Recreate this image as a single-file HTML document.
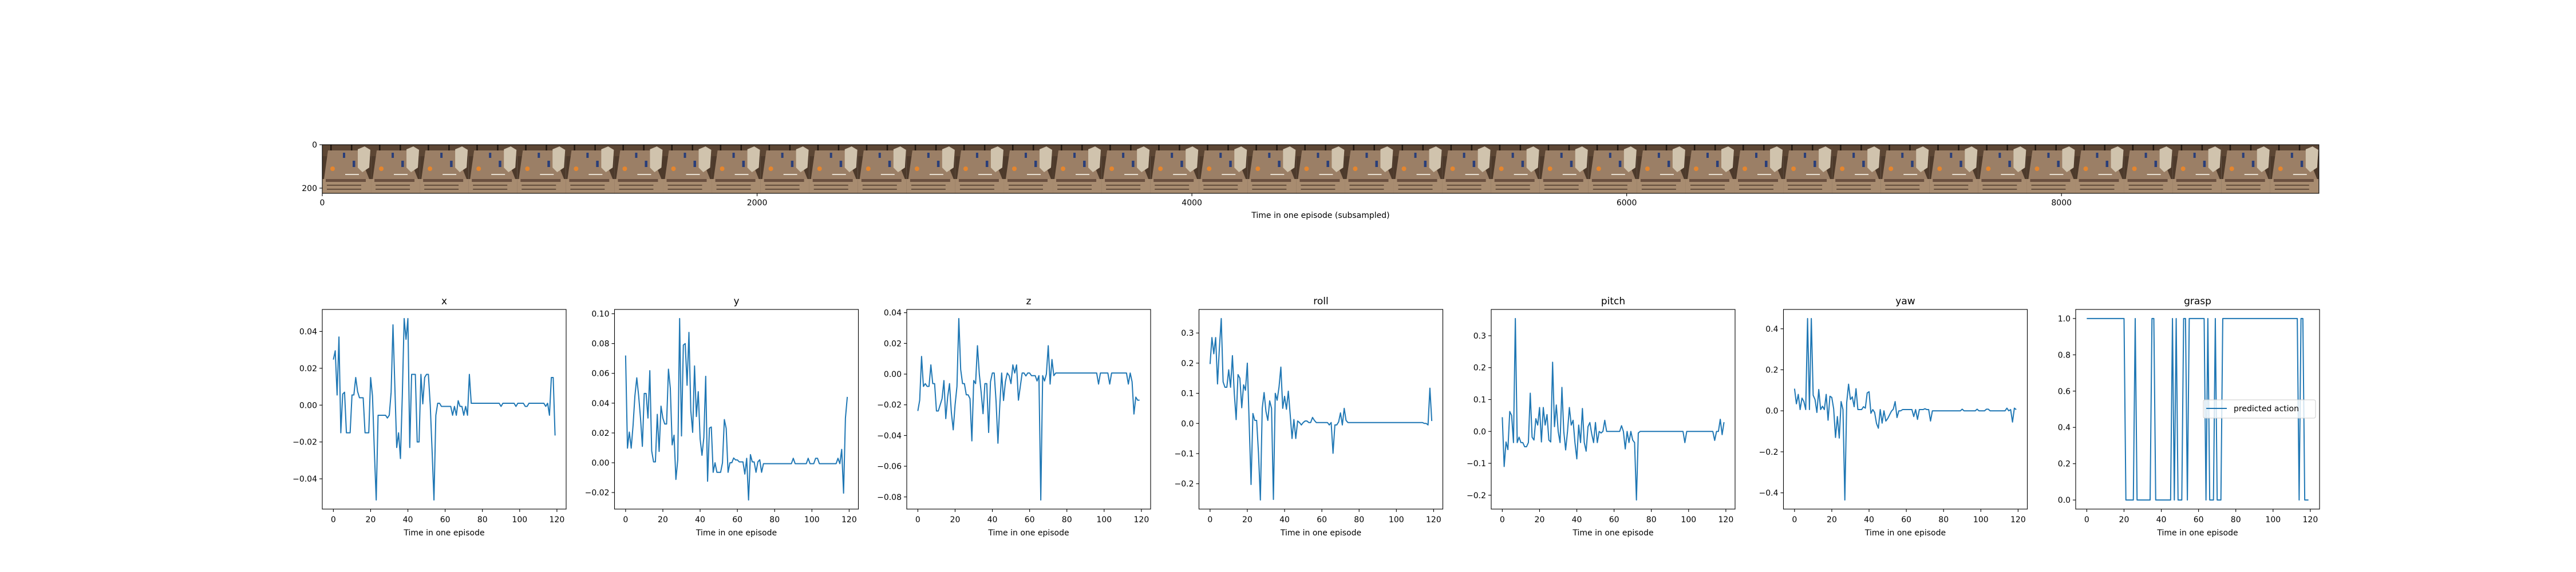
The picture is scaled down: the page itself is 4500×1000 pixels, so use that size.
<!DOCTYPE html>
<html><head><meta charset="utf-8"><style>
html,body{margin:0;padding:0;background:#fff;}
svg{display:block;font-family:"DejaVu Sans","Liberation Sans",sans-serif;}
</style></head><body>
<svg id="fig" width="4500" height="1000" viewBox="0 0 4500 1000" xmlns="http://www.w3.org/2000/svg">
<defs>
<g id="tile">
 <rect x="0" y="0" width="85.07" height="85" fill="#4d3a2b"/>
 <rect x="0" y="0" width="85.07" height="20" fill="#5c4634"/>
 <rect x="14" y="0" width="2.5" height="24" fill="#21170f"/>
 <rect x="50" y="0" width="2.5" height="20" fill="#21170f"/>
 <polygon points="10,10 62,10 82,60 3,60" fill="#9b7f66"/>
 <rect x="0" y="60" width="85.07" height="25" fill="#a88c70"/>
 <rect x="6" y="60" width="70" height="5" fill="#6a5040"/>
 <rect x="8" y="70" width="60" height="1.5" fill="#4e3a2c"/>
 <rect x="8" y="77" width="60" height="1.5" fill="#4e3a2c"/>
 <circle cx="18" cy="42" r="4" fill="#e5862e"/>
 <rect x="36" y="14" width="4" height="9" fill="#2a3f7a"/>
 <rect x="53" y="28" width="4.5" height="11" fill="#2a3f7a"/>
 <rect x="40" y="51" width="24" height="2" fill="#e6ddd0"/>
 <polygon points="62,8 74,3 84,9 82,40 70,48 62,40" fill="#d0c3ad"/>
</g>
</defs>
<g id="strip"></g>
<g id="panels"></g>
</svg>
<script>
// ---------- chart data ----------
const timesteps = Array.from({length:120},(_,i)=>i);
const panelTitles = ["x","y","z","roll","pitch","yaw","grasp"];
const xVals = [0.0247,0.0295,0.0055,0.037,-0.015,0.006,0.007,-0.015,-0.015,-0.015,0.0055,0.0055,0.015,0.0074,0.004,0.004,0.004,-0.015,-0.015,-0.015,0.015,0.005,-0.025,-0.0515,-0.0055,-0.0055,-0.0055,-0.0055,-0.0055,-0.007,-0.0055,0.007,0.0436,0.01,-0.023,-0.015,-0.029,0.005,0.047,0.0357,0.047,-0.023,0.0167,0.0167,0.0167,-0.02,-0.02,0.0167,0.0007,0.015,0.0167,0.0167,0.0,-0.025,-0.0515,-0.0055,0.001,0.001,-0.0007,-0.0007,-0.0007,-0.0007,-0.0007,-0.0007,-0.0055,-0.0007,-0.0055,0.0024,-0.0007,-0.0007,-0.0055,-0.0007,-0.0055,0.0167,0.001,0.001,0.001,0.001,0.001,0.001,0.001,0.001,0.001,0.001,0.001,0.001,0.001,0.001,0.001,0.001,-0.0007,0.001,0.001,0.001,0.001,0.001,0.001,0.001,-0.0007,0.001,0.001,0.001,0.001,-0.0007,-0.0007,0.001,0.001,0.001,0.001,0.001,0.001,0.001,0.001,0.001,-0.0007,0.001,-0.0055,0.015,0.015,-0.0165];
const yVals = [0.072,0.0098,0.0206,0.0098,0.025,0.045,0.057,0.045,0.03,0.011,0.0465,0.0465,0.03,0.0618,0.008,0.0006,0.0006,0.0325,0.0076,0.038,0.03,0.026,0.026,0.0628,0.05,0.012,0.0185,-0.0112,0.002,0.0968,0.018,0.079,0.08,0.052,0.0875,0.035,0.0204,0.065,0.031,0.0477,0.016,0.005,0.017,0.058,-0.0124,0.0233,0.024,-0.0064,0,-0.0064,-0.0064,-0.0064,0,0.029,0.023,-0.0064,0,0,0.0032,0.0019,0.0019,0.0006,0.0006,0.0006,-0.0076,0.003,-0.025,0.0055,0.0006,0.0006,-0.0064,0.0006,0.002,-0.0064,-0.0006,-0.0006,-0.0006,-0.0006,-0.0006,-0.0006,-0.0006,-0.0006,-0.0006,-0.0006,-0.0006,-0.0006,-0.0006,-0.0006,-0.0006,-0.0006,0.003,-0.0006,-0.0006,-0.0006,-0.0006,-0.0006,-0.0006,-0.0006,0.003,-0.0006,-0.0006,-0.0006,0.003,0.003,-0.0006,-0.0006,-0.0006,-0.0006,-0.0006,-0.0006,-0.0006,-0.0006,-0.0006,-0.0006,0.003,-0.0006,0.009,-0.0204,0.03,0.0442];
const zVals = [-0.024,-0.017,0.0115,-0.008,-0.0062,-0.008,-0.008,0.006,-0.0062,-0.0062,-0.024,-0.024,-0.02,-0.016,-0.0042,-0.029,-0.015,-0.0062,-0.025,-0.0363,-0.02,-0.008,0.0362,0.003,-0.0062,-0.0062,-0.0135,-0.0135,-0.016,-0.0435,-0.0042,-0.0062,0.0185,0.0,-0.012,-0.0258,-0.0062,-0.0062,-0.038,-0.005,0.0007,0.0007,-0.018,-0.045,-0.02,0.0007,-0.0172,-0.005,0.0007,-0.001,-0.0062,0.006,0.0007,0.006,-0.017,-0.008,0.0007,0.0007,-0.0012,0.0007,0.0007,-0.001,-0.001,-0.001,-0.0045,-0.001,-0.082,-0.001,-0.0045,0.0,0.0185,-0.0065,0.0095,-0.001,0.0007,0.0007,0.0007,0.0007,0.0007,0.0007,0.0007,0.0007,0.0007,0.0007,0.0007,0.0007,0.0007,0.0007,0.0007,0.0007,0.0007,0.0007,0.0007,0.0007,0.0007,0.0007,0.0007,-0.0065,0.0007,0.0007,0.0007,0.0007,0.0007,-0.0065,0.0007,0.0007,0.0007,0.0007,0.0007,0.0007,0.0007,0.0007,0.0007,-0.0065,0.0007,-0.005,-0.026,-0.015,-0.017,-0.017];
const rollVals = [0.197,0.285,0.231,0.285,0.131,0.25,0.348,0.138,0.12,0.12,0.178,0.12,0.225,0.1,0.0126,0.162,0.15,0.052,0.128,0.11,0.2,0.0,-0.2025,0.033,0.01,0.01,-0.1,-0.254,0.05,0.1025,0.04,0.01,0.075,0.05,-0.252,0.1,0.077,0.12,0.187,0.05,0.09,0.047,0.107,0.03,-0.05,0.013,-0.05,0.008,0.003,-0.005,0.003,0.008,0.008,0.003,0.003,0.02,0.01,0.003,0.003,0.003,0.003,0.003,0.003,0.003,-0.005,0.003,-0.099,-0.005,-0.005,0.005,0.035,-0.005,0.05,0.01,0.003,0.003,0.003,0.003,0.003,0.003,0.003,0.003,0.003,0.003,0.003,0.003,0.003,0.003,0.003,0.003,0.003,0.003,0.003,0.003,0.003,0.003,0.003,0.003,0.003,0.003,0.003,0.003,0.003,0.003,0.003,0.003,0.003,0.003,0.003,0.003,0.003,0.003,0.003,0.003,0.003,0.0,0.0,-0.005,0.117,0.008];
const pitchVals = [0.0446,-0.11,-0.033,-0.057,0.0625,0.05,-0.035,0.354,-0.035,-0.018,-0.035,-0.035,-0.048,-0.048,-0.035,0.12,-0.018,-0.027,0.04,0.02,0.075,-0.033,0.075,0.02,0.053,-0.027,-0.033,0.217,0.015,0.083,0.0,-0.035,0.138,0.0,-0.058,0.0,0.075,0.02,0.035,-0.035,-0.086,0.02,-0.035,0.072,-0.035,-0.062,0.015,0.028,-0.008,-0.035,0.028,-0.035,0.0,-0.005,0.0,0.035,0.0,0.0,0.0,0.0,0.0,0.0,0.0,0.0,0.018,0.0,-0.055,0.0,-0.035,0.0,-0.027,-0.035,-0.215,-0.005,0.0,0.0,0.0,0.0,0.0,0.0,0.0,0.0,0.0,0.0,0.0,0.0,0.0,0.0,0.0,0.0,0.0,0.0,0.0,0.0,0.0,0.0,0.0,0.0,-0.035,0.0,0.0,0.0,0.0,0.0,0.0,0.0,0.0,0.0,0.0,0.0,0.0,0.0,0.0,0.0,-0.028,0.0,0.0,0.038,-0.01,0.029];
const yawVals = [0.108,0.034,0.08,0.006,0.062,0.045,0.006,0.45,0.006,0.45,0.076,0.055,-0.008,0.104,0.006,0.022,0.006,0.08,-0.046,0.071,0.065,0.01,-0.13,-0.028,-0.133,0.045,0.006,-0.435,0.04,0.13,0.055,0.068,0.02,0.108,0.006,0.006,0.006,0.02,0.013,0.087,0.093,-0.012,0.006,-0.008,-0.062,-0.085,0.006,-0.06,0.0,-0.05,-0.038,-0.02,-0.002,0.008,0.045,-0.033,0.0,0.0,0.006,0.006,0.006,0.006,0.006,0.006,-0.028,0.006,-0.042,0.006,0.006,0.006,0.01,0.006,0.006,-0.05,0.0,0.0,0.0,0.0,0.0,0.0,0.0,0.0,0.0,0.0,0.0,0.0,0.0,0.0,0.0,0.0,0.008,0.0,0.0,0.0,0.0,0.0,0.0,0.0,0.008,0.0,0.0,0.0,0.0,0.008,0.008,0.0,0.0,0.0,0.0,0.0,0.0,0.0,0.0,0.0,0.013,0.0,0.006,-0.055,0.013,0.006];
const graspVals = [1,1,1,1,1,1,1,1,1,1,1,1,1,1,1,1,1,1,1,1,1,0,0,0,0,0,1,0,0,0,0,0,0,0,0,1,1,0,0,0,0,0,0,0,0,0,1,0,1,0,0,0,1,1,0,1,1,1,1,1,1,1,1,1,0,1,0,0,0,1,0,0,0,1,1,1,1,1,1,1,1,1,1,1,1,1,1,1,1,1,1,1,1,1,1,1,1,1,1,1,1,1,1,1,1,1,1,1,1,1,1,1,1,1,0,1,1,0,0,0];
const xTicks = [0,20,40,60,80,100,120];
const yTicksX = [-0.04,-0.02,0.00,0.02,0.04];
const yTicksY = [-0.02,0.00,0.02,0.04,0.06,0.08,0.10];
const yTicksZ = [-0.08,-0.06,-0.04,-0.02,0.00,0.02,0.04];
const yTicksRoll = [-0.2,-0.1,0.0,0.1,0.2,0.3];
const yTicksPitch = [-0.2,-0.1,0.0,0.1,0.2,0.3];
const yTicksYaw = [-0.4,-0.2,0.0,0.2,0.4];
const yTicksGrasp = [0.0,0.2,0.4,0.6,0.8,1.0];
const yTickDecimals = [2,2,2,1,1,1,1];
const stripTicks = [0,2000,4000,6000,8000];
const stripYTicks = [0,200];
const frameCount = 41;
const frameSize = 224;

const NS="http://www.w3.org/2000/svg";
function mk(tag, parent){const e=document.createElementNS(NS,tag);parent.appendChild(e);return e;}
function fmt(v,d){const s=Math.abs(v).toFixed(d);return (v<-1e-9?"\u2212":"")+s;}

// ---------- image strip ----------
const strip=document.getElementById("strip");
const sL=563, sT=253, sH=85;
const dataW=frameCount*frameSize;
const sW=dataW*85.07/frameSize;
const sx=v=>sL+v*sW/dataW;
const sy=v=>sT+v*sH/frameSize;
for(let i=0;i<frameCount;i++){
  const u=mk("use",strip);
  u.setAttribute("href","#tile");
  u.setAttribute("x",sx(i*frameSize));
  u.setAttribute("y",sT);
  
  
}
{
  const r=mk("rect",strip);
  r.setAttribute("x",sL);r.setAttribute("y",sT);r.setAttribute("width",sW);r.setAttribute("height",sH);
  r.setAttribute("fill","none");r.setAttribute("stroke","#000");r.setAttribute("stroke-width","1.1");
  
  
  stripTicks.forEach(t=>{
    const l=mk("line",strip);
    l.setAttribute("x1",sx(t));l.setAttribute("x2",sx(t));l.setAttribute("y1",sT+sH);l.setAttribute("y2",sT+sH+5);
    l.setAttribute("stroke","#000");l.setAttribute("stroke-width","1.1");
    
    
    const tx=mk("text",strip);
    tx.setAttribute("x",sx(t));tx.setAttribute("y",sT+sH+21);tx.setAttribute("text-anchor","middle");tx.setAttribute("font-size","14");
    tx.textContent=String(t);
    
    
  });
  stripYTicks.forEach(t=>{
    const l=mk("line",strip);
    l.setAttribute("x1",sL-5);l.setAttribute("x2",sL);l.setAttribute("y1",sy(t));l.setAttribute("y2",sy(t));
    l.setAttribute("stroke","#000");l.setAttribute("stroke-width","1.1");
    
    
    const tx=mk("text",strip);
    tx.setAttribute("x",sL-9);tx.setAttribute("y",sy(t)+5);tx.setAttribute("text-anchor","end");tx.setAttribute("font-size","14");
    tx.textContent=String(t);
    
    
  });
  const xl=mk("text",strip);
  xl.setAttribute("x",sL+sW/2);xl.setAttribute("y",381);xl.setAttribute("text-anchor","middle");xl.setAttribute("font-size","14");
  xl.textContent="Time in one episode (subsampled)";
  
  
}

// ---------- action panels ----------
const panels=document.getElementById("panels");
const series=[xVals,yVals,zVals,rollVals,pitchVals,yawVals,graspVals];
const yTickSets=[yTicksX,yTicksY,yTicksZ,yTicksRoll,yTicksPitch,yTicksYaw,yTicksGrasp];
const pT=541, pB=890, pW=426;
series.forEach((vals,pi)=>{
  const L=563+pi*510.5, R=L+pW;
  const g=mk("g",panels);
  
  
  const xmin=0,xmax=timesteps[timesteps.length-1];
  const xm=(xmax-xmin)*0.05;
  const X=v=>L+(v-(xmin-xm))/((xmax+xm)-(xmin-xm))*pW;
  let ymin=Math.min(...vals), ymax=Math.max(...vals);
  const ym=(ymax-ymin)*0.05;
  const y0=ymin-ym, y1=ymax+ym;
  const Y=v=>pB-(v-y0)/(y1-y0)*(pB-pT);
  const p=mk("polyline",g);
  p.setAttribute("points",vals.map((v,i)=>X(timesteps[i]).toFixed(2)+","+Y(v).toFixed(2)).join(" "));
  p.setAttribute("fill","none");p.setAttribute("stroke","#1f77b4");p.setAttribute("stroke-width","2");p.setAttribute("stroke-linejoin","round");
  
  
  const fr=mk("rect",g);
  fr.setAttribute("x",L);fr.setAttribute("y",pT);fr.setAttribute("width",pW);fr.setAttribute("height",pB-pT);
  fr.setAttribute("fill","none");fr.setAttribute("stroke","#000");fr.setAttribute("stroke-width","1.1");
  
  
  xTicks.forEach(t=>{
    const l=mk("line",g);
    l.setAttribute("x1",X(t));l.setAttribute("x2",X(t));l.setAttribute("y1",pB);l.setAttribute("y2",pB+5);
    l.setAttribute("stroke","#000");l.setAttribute("stroke-width","1.1");
    
    
    const tx=mk("text",g);
    tx.setAttribute("x",X(t));tx.setAttribute("y",pB+23);tx.setAttribute("text-anchor","middle");tx.setAttribute("font-size","14");
    tx.textContent=String(t);
    
    
  });
  yTickSets[pi].forEach(t=>{
    if(t<y0-1e-9||t>y1+1e-9) return;
    const l=mk("line",g);
    l.setAttribute("x1",L-5);l.setAttribute("x2",L);l.setAttribute("y1",Y(t));l.setAttribute("y2",Y(t));
    l.setAttribute("stroke","#000");l.setAttribute("stroke-width","1.1");
    
    
    const tx=mk("text",g);
    tx.setAttribute("x",L-9);tx.setAttribute("y",Y(t)+5);tx.setAttribute("text-anchor","end");tx.setAttribute("font-size","14");
    tx.textContent=fmt(t,yTickDecimals[pi]);
    
    
  });
  const ti=mk("text",g);
  ti.setAttribute("x",L+pW/2);ti.setAttribute("y",pT-9);ti.setAttribute("text-anchor","middle");ti.setAttribute("font-size","17");
  ti.textContent=panelTitles[pi];
  
  
  const xl=mk("text",g);
  xl.setAttribute("x",L+pW/2);xl.setAttribute("y",936);xl.setAttribute("text-anchor","middle");xl.setAttribute("font-size","14");
  xl.textContent="Time in one episode";
  
  
  if(pi===6){
    const lg=mk("g",g);
    
    
    const bx=mk("rect",lg);
    bx.setAttribute("x",3849);bx.setAttribute("y",699);bx.setAttribute("width",196);bx.setAttribute("height",32);bx.setAttribute("rx","3");
    bx.setAttribute("fill","#fff");bx.setAttribute("fill-opacity","0.8");bx.setAttribute("stroke","#ccc");bx.setAttribute("stroke-width","1");
    
    
    const ln=mk("line",lg);
    ln.setAttribute("x1",3854);ln.setAttribute("x2",3890);ln.setAttribute("y1",714);ln.setAttribute("y2",714);
    ln.setAttribute("stroke","#1f77b4");ln.setAttribute("stroke-width","2");
    
    
    const lt=mk("text",lg);
    lt.setAttribute("x",3902);lt.setAttribute("y",719);lt.setAttribute("font-size","14");
    lt.textContent="predicted action";
    
    
  }
});
</script>
</body></html>
